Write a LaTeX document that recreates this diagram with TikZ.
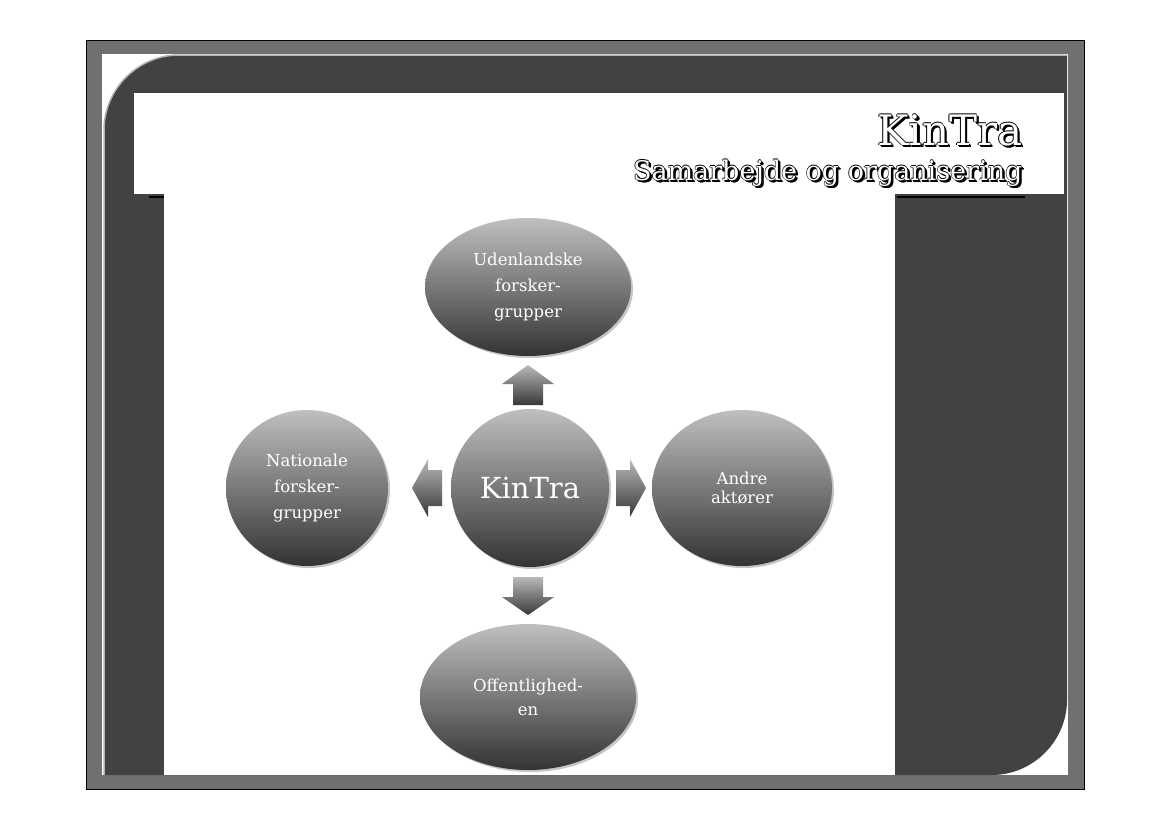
\documentclass[tikz,border=0pt]{standalone}
\usepackage{fontspec}
\setmainfont{DejaVu Serif}
\usetikzlibrary{shapes.geometric,shadows}
\tikzset{
  bub/.style={ellipse,draw=none,top color=gray!50,bottom color=black!80,text=white,align=center,font=\fontsize{16.5}{26}\selectfont,inner sep=0pt,drop shadow={opacity=0.45,shadow xshift=2pt,shadow yshift=-2pt}},
  arr/.style={top color=gray!55,bottom color=black!78},
}
\newcommand{\outl}[3]{%
  \foreach \dx/\dy in {1.5/-1.5,2/-2,2.5/-2.5}{\node[anchor=east,text=black,font=#2] at ([shift={(\dx pt,\dy pt)}]#1) {#3};}
  \foreach \dx/\dy in {-0.6/0,0.6/0,0/0.6,0/-0.6}{\node[anchor=east,text=black,font=#2] at ([shift={(\dx pt,\dy pt)}]#1) {#3};}
  \node[anchor=east,text=white,font=#2] at (#1) {#3};}
\begin{document}
\begin{tikzpicture}[x=1pt,y=-1pt]
\useasboundingbox (0,0) rectangle (1169,827);
\fill[white] (0,0) rectangle (1169,827);
\fill[gray!88!black] (86,40) rectangle (1084,789);
\draw[black] (86,40) rectangle (1084,789);
\fill[white] (102,54) rectangle (1068,775);
\fill[black!74] (104,775) -- (104,130) .. controls (104,89) and (138,55) .. (179,55) -- (1067,55) -- (1067,700) .. controls (1067,741) and (1033,775) .. (992,775) -- cycle;
\draw[gray!60,line width=1.5pt] (104,775) -- (104,130) .. controls (104,89) and (138,55) .. (179,55) -- (1067,55);
\fill[white] (134,93) rectangle (1064,194);
\fill[white] (164,194) rectangle (895,775);
\draw[black,line width=1.2pt] (149,197) -- (164,197);
\draw[black,line width=1.2pt] (897,197) -- (1025,197);
\coordinate (t1) at (1026,130);
\coordinate (t2) at (1026,173);
\outl{t1}{\fontsize{42}{42}\selectfont}{KinTra}
\outl{t2}{\fontsize{27}{27}\selectfont}{Samarbejde og organisering}
\node[bub,minimum width=206pt,minimum height=138pt] (u) at (528,287) {Udenlandske\\forsker-\\grupper};
\node[bub,minimum width=162pt,minimum height=156pt] (n) at (307,488) {Nationale\\forsker-\\grupper};
\node[bub,minimum width=180pt,minimum height=156pt,font=\fontsize{16.5}{19}\selectfont] (a) at (742,488) {Andre\\aktører};
\node[bub,minimum width=216pt,minimum height=146pt,font=\fontsize{16.5}{24}\selectfont] (o) at (528,697) {Offentlighed-\\en};
\node[bub,minimum width=158pt,minimum height=158pt,font=\fontsize{29}{29}\selectfont] (k) at (530,488) {KinTra};
\shade[arr] (528,365) -- (554,384) -- (543,384) -- (543,405) -- (513,405) -- (513,384) -- (502,384) -- cycle;
\shade[arr] (528,615) -- (554,597) -- (543,597) -- (543,577) -- (513,577) -- (513,597) -- (502,597) -- cycle;
\shade[arr] (412,488) -- (428,459) -- (428,470) -- (442,470) -- (442,506) -- (428,506) -- (428,517) -- cycle;
\shade[arr] (646,488) -- (630,459) -- (630,470) -- (616,470) -- (616,506) -- (630,506) -- (630,517) -- cycle;
\end{tikzpicture}
\end{document}
